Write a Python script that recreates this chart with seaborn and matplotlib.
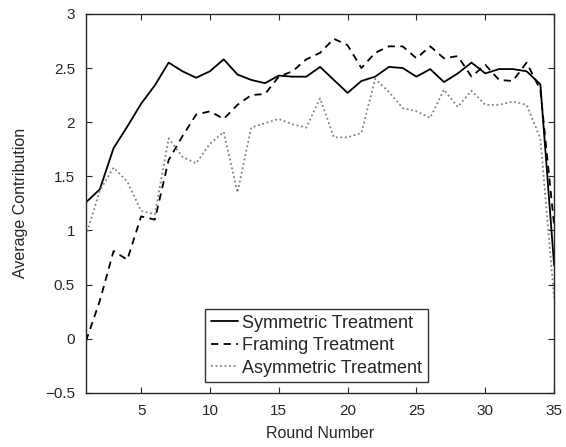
import numpy as np
import pandas as pd
import seaborn as sns
import matplotlib
matplotlib.use('Agg')
import matplotlib.pyplot as plt

rounds = list(range(1, 36))
symmetric = [1.26, 1.38, 1.76, 1.96, 2.17, 2.34, 2.55, 2.47, 2.41, 2.47, 2.58, 2.44, 2.39, 2.36, 2.43,
             2.42, 2.42, 2.51, 2.39, 2.27, 2.38, 2.42, 2.51, 2.50, 2.42, 2.49, 2.37, 2.45, 2.55, 2.45,
             2.49, 2.49, 2.47, 2.35, 0.68]
framing = [-0.02, 0.35, 0.81, 0.73, 1.13, 1.10, 1.65, 1.87, 2.07, 2.10, 2.03, 2.16, 2.25, 2.26, 2.42,
           2.47, 2.58, 2.64, 2.77, 2.71, 2.50, 2.64, 2.70, 2.70, 2.59, 2.70, 2.59, 2.61, 2.42, 2.53,
           2.39, 2.38, 2.55, 2.30, 1.05]
asymmetric = [0.95, 1.37, 1.58, 1.45, 1.18, 1.15, 1.85, 1.68, 1.62, 1.80, 1.91, 1.35, 1.95, 1.99, 2.03,
              1.98, 1.95, 2.22, 1.86, 1.86, 1.90, 2.40, 2.28, 2.13, 2.10, 2.04, 2.30, 2.14, 2.29, 2.16,
              2.16, 2.19, 2.16, 1.85, 0.38]
names = ['Symmetric Treatment', 'Framing Treatment', 'Asymmetric Treatment']

df = pd.concat([
    pd.DataFrame({'round': rounds, 'contribution': vals, 'treatment': name})
    for name, vals in zip(names, [symmetric, framing, asymmetric])
])

sns.set_style('ticks')
plt.rcParams['font.family'] = ['Liberation Sans', 'DejaVu Sans']

fig, ax = plt.subplots(figsize=(5.66, 4.47), dpi=100)
fig.subplots_adjust(left=0.152, right=0.979, top=0.969, bottom=0.121)

palette = {names[0]: 'black', names[1]: 'black', names[2]: '#808080'}
dashes = {names[0]: '', names[1]: (4, 3), names[2]: (1, 1.5)}
sns.lineplot(data=df, x='round', y='contribution', hue='treatment', style='treatment',
             palette=palette, dashes=dashes, linewidth=1.3, ax=ax)

ax.set_xlim(1, 35)
ax.set_ylim(-0.5, 3)
ax.set_xticks([5, 10, 15, 20, 25, 30, 35])
ax.set_yticks([-0.5, 0, 0.5, 1, 1.5, 2, 2.5, 3])
ax.set_yticklabels(['\u22120.5', '0', '0.5', '1', '1.5', '2', '2.5', '3'])
ax.tick_params(direction='in', top=True, right=True, labelsize=11, length=4, width=0.8, pad=8)
for s in ax.spines.values():
    s.set_visible(True)
    s.set_linewidth(1.0)
ax.set_xlabel('Round Number', fontsize=11.5, labelpad=6)
ax.set_ylabel('Average Contribution', fontsize=11.5, labelpad=12)

leg = ax.legend(loc='lower center', bbox_to_anchor=(0.4925, 0.029), fontsize=13, frameon=True,
                fancybox=False, edgecolor='black', handlelength=1.5, handletextpad=0.25,
                borderpad=0.3, labelspacing=0.3, borderaxespad=0)
leg.get_frame().set_linewidth(1.0)

plt.savefig('out.png', dpi=100)
